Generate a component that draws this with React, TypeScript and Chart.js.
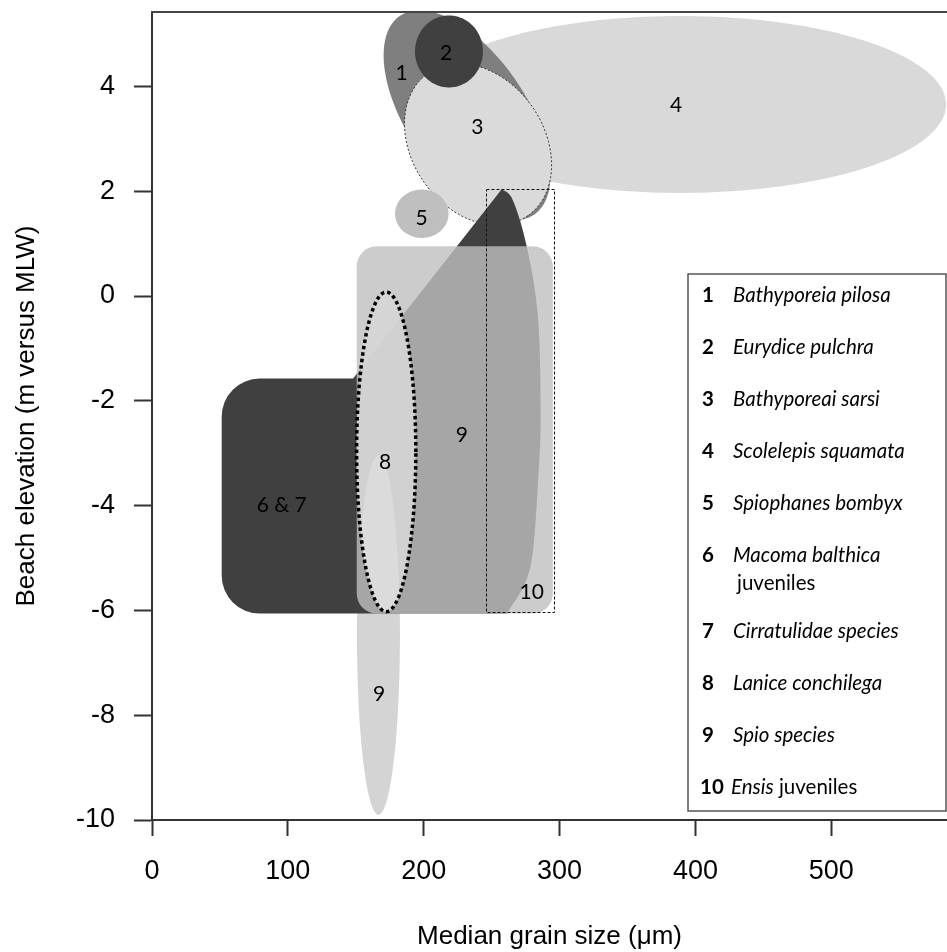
import React, { useEffect, useRef } from 'react';
import { Chart, registerables } from 'chart.js';

Chart.register(...registerables);

// ---- axes ----
const X_MIN = 0;
const X_MAX = 585.2;
const Y_MIN = -10;
const Y_MAX = 5.42;
const xTicks = [0, 100, 200, 300, 400, 500];
const yTicks = [-10, -8, -6, -4, -2, 0, 2, 4];

// ---- elliptical zones: [centreX, centreY, semiAxis1 dx, dy, semiAxis2 dx, dy] (data units) ----
const zone4Scolelepis = [388.7, 3.656, 195.8, 0, 0, 1.688];
const zone1BathyPilosa = [231.9, 3.45, 49.3, -1.898, -36.6, -0.639];
const zone3BathySarsi = [240.0, 2.893, 36.7, -1.36, -39.8, -0.723];
const zone2Eurydice = [218.6, 4.667, 25.0, 0, 0, 0.687];
const zone5Spiophanes = [198.6, 1.57, 19.7, 0, 0, 0.462];
const zone9SpioLow = [166.7, -6.47, 15.8, 0, 0, 3.43];
const zone8Lanice = [172.4, -2.975, 21.8, 0, 0, 3.05];

// ---- rectangular zones: [xMin, xMax, yMin, yMax] ----
const zone9SpioBox = [150.7, 295.0, -6.06, 0.948];
const zone10Ensis = [246.2, 296.0, -6.03, 2.04];
const zone67Rect = [51.3, 148.0, -6.06, -1.575];

// ---- dark wedge (6 & 7) right-hand edge, top to bottom ----
const wedgeEdgeX = [257.4, 265.7, 276.0, 284.1, 286.1, 284.1, 280.5, 274.6, 261.1];
const wedgeEdgeY = [2.035, 1.825, 0.929, -0.406, -2.31, -3.57, -4.85, -5.48, -6.06];

// ---- zone labels ----
const zoneLabels = ['1', '2', '3', '4', '5', '6 & 7', '8', '9', '9', '10'];
const zoneLabelX = [183.8, 216.4, 239.5, 385.7, 198.5, 95.5, 171.5, 228.0, 167.1, 279.5];
const zoneLabelY = [4.242, 4.635, 3.212, 3.65, 1.482, -3.99, -3.166, -2.657, -7.6, -5.646];

// ---- legend ----
const legendNumbers = ['1', '2', '3', '4', '5', '6', '7', '8', '9', '10'];
const legendNames = [
  'Bathyporeia pilosa',
  'Eurydice pulchra',
  'Bathyporeai sarsi',
  'Scolelepis squamata',
  'Spiophanes bombyx',
  'Macoma balthica',
  'Cirratulidae species',
  'Lanice conchilega',
  'Spio species',
  'Ensis',
];

const AXIS_FONT = '"Liberation Sans", Arial, sans-serif';
const LABEL_FONT = 'Lato, "Noto Sans", sans-serif';

function ellipsePath(ctx: CanvasRenderingContext2D, xs: any, ys: any, z: number[]) {
  const [cx, cy, ax, ay, bx, by] = z;
  const px = xs.getPixelForValue(cx);
  const py = ys.getPixelForValue(cy);
  const Ax = xs.getPixelForValue(cx + ax) - px;
  const Ay = ys.getPixelForValue(cy + ay) - py;
  const Bx = xs.getPixelForValue(cx + bx) - px;
  const By = ys.getPixelForValue(cy + by) - py;
  ctx.beginPath();
  const n = 180;
  for (let i = 0; i <= n; i++) {
    const t = (i / n) * Math.PI * 2;
    const x = px + Ax * Math.cos(t) + Bx * Math.sin(t);
    const y = py + Ay * Math.cos(t) + By * Math.sin(t);
    if (i === 0) ctx.moveTo(x, y);
    else ctx.lineTo(x, y);
  }
  ctx.closePath();
}

function roundRectPath(ctx: CanvasRenderingContext2D, xs: any, ys: any, r: number[], rad: number) {
  const x0 = xs.getPixelForValue(r[0]);
  const x1 = xs.getPixelForValue(r[1]);
  const y0 = ys.getPixelForValue(r[3]);
  const y1 = ys.getPixelForValue(r[2]);
  ctx.beginPath();
  ctx.moveTo(x0 + rad, y0);
  ctx.arcTo(x1, y0, x1, y1, rad);
  ctx.arcTo(x1, y1, x0, y1, rad);
  ctx.arcTo(x0, y1, x0, y0, rad);
  ctx.arcTo(x0, y0, x1, y0, rad);
  ctx.closePath();
}

function wedgePath(ctx: CanvasRenderingContext2D, xs: any, ys: any) {
  const pts = wedgeEdgeX.map((x, i) => [xs.getPixelForValue(x), ys.getPixelForValue(wedgeEdgeY[i])]);
  const xL = xs.getPixelForValue(zone67Rect[0]);
  const xJ = xs.getPixelForValue(zone67Rect[1]);
  const yT = ys.getPixelForValue(zone67Rect[3]);
  const yB = ys.getPixelForValue(zone67Rect[2]);
  const rad = 38;
  ctx.beginPath();
  ctx.moveTo(pts[0][0], pts[0][1]);
  for (let i = 0; i < pts.length - 1; i++) {
    const p0 = pts[Math.max(0, i - 1)];
    const p1 = pts[i];
    const p2 = pts[i + 1];
    const p3 = pts[Math.min(pts.length - 1, i + 2)];
    const c1x = p1[0] + (p2[0] - p0[0]) / 6;
    const c1y = p1[1] + (p2[1] - p0[1]) / 6;
    const c2x = p2[0] - (p3[0] - p1[0]) / 6;
    const c2y = p2[1] - (p3[1] - p1[1]) / 6;
    ctx.bezierCurveTo(c1x, c1y, c2x, c2y, p2[0], p2[1]);
  }
  ctx.lineTo(pts[pts.length - 1][0], yB);
  ctx.arcTo(xL, yB, xL, yT, rad);
  ctx.arcTo(xL, yT, xJ, yT, rad);
  ctx.lineTo(xJ, yT);
  ctx.lineTo(pts[0][0], pts[0][1]);
  ctx.closePath();
}

const zonesPlugin = {
  id: 'zones',
  beforeDatasetsDraw(chart: any) {
    const { ctx, chartArea } = chart;
    const xs = chart.scales.x;
    const ys = chart.scales.y;
    ctx.save();
    ctx.beginPath();
    ctx.rect(chartArea.left, chartArea.top, chartArea.right - chartArea.left, chartArea.bottom - chartArea.top);
    ctx.clip();

    // 4
    ellipsePath(ctx, xs, ys, zone4Scolelepis);
    ctx.fillStyle = '#d9d9d9';
    ctx.fill();
    // 1
    ellipsePath(ctx, xs, ys, zone1BathyPilosa);
    ctx.fillStyle = '#7f7f7f';
    ctx.fill();
    // 3
    ellipsePath(ctx, xs, ys, zone3BathySarsi);
    ctx.fillStyle = '#dadada';
    ctx.fill();
    ctx.setLineDash([2, 2]);
    ctx.lineWidth = 1;
    ctx.strokeStyle = '#333';
    ctx.stroke();
    ctx.setLineDash([]);
    // 2
    ellipsePath(ctx, xs, ys, zone2Eurydice);
    ctx.fillStyle = '#404040';
    ctx.fill();
    // 5
    ellipsePath(ctx, xs, ys, zone5Spiophanes);
    ctx.fillStyle = '#bfbfbf';
    ctx.fill();
    // 9 (lower part)
    ellipsePath(ctx, xs, ys, zone9SpioLow);
    ctx.fillStyle = '#d4d4d4';
    ctx.fill();
    // 6 & 7 dark wedge
    wedgePath(ctx, xs, ys);
    ctx.fillStyle = '#404040';
    ctx.fill();
    // 9 box
    roundRectPath(ctx, xs, ys, zone9SpioBox, 20);
    ctx.fillStyle = 'rgba(191,191,191,0.8)';
    ctx.fill();
    // 8
    ellipsePath(ctx, xs, ys, zone8Lanice);
    ctx.fillStyle = 'rgba(214,214,214,0.9)';
    ctx.fill();
    ctx.save();
    ctx.clip();
    ellipsePath(ctx, xs, ys, zone9SpioLow);
    ctx.fillStyle = 'rgba(225,225,225,0.6)';
    ctx.fill();
    ctx.restore();
    ellipsePath(ctx, xs, ys, zone8Lanice);
    ctx.setLineDash([3.5, 3]);
    ctx.lineWidth = 3.5;
    ctx.strokeStyle = '#000';
    ctx.stroke();
    ctx.setLineDash([]);
    // 10 dashed rectangle
    {
      const x0 = xs.getPixelForValue(zone10Ensis[0]);
      const x1 = xs.getPixelForValue(zone10Ensis[1]);
      const y0 = ys.getPixelForValue(zone10Ensis[3]);
      const y1 = ys.getPixelForValue(zone10Ensis[2]);
      ctx.setLineDash([3, 2]);
      ctx.lineWidth = 1;
      ctx.strokeStyle = '#111';
      ctx.strokeRect(Math.round(x0) + 0.5, Math.round(y0) + 0.5, Math.round(x1 - x0), Math.round(y1 - y0));
      ctx.setLineDash([]);
    }
    // labels
    ctx.fillStyle = '#000';
    ctx.font = `21px ${LABEL_FONT}`;
    ctx.textAlign = 'center';
    ctx.textBaseline = 'middle';
    zoneLabels.forEach((t, i) => {
      ctx.fillText(t, xs.getPixelForValue(zoneLabelX[i]), ys.getPixelForValue(zoneLabelY[i]));
    });
    ctx.restore();
  },
  afterDraw(chart: any) {
    const { ctx, chartArea } = chart;
    ctx.save();
    // top frame line
    ctx.strokeStyle = '#444';
    ctx.lineWidth = 2;
    ctx.beginPath();
    ctx.moveTo(chartArea.left - 1, chartArea.top);
    ctx.lineTo(chartArea.right, chartArea.top);
    ctx.stroke();

    // legend box
    const bx0 = 688;
    const by0 = 274;
    const bx1 = 946;
    const by1 = 811;
    ctx.fillStyle = '#fff';
    ctx.fillRect(bx0, by0, bx1 - bx0, by1 - by0);
    ctx.strokeStyle = '#555';
    ctx.lineWidth = 1.5;
    ctx.strokeRect(bx0, by0, bx1 - bx0, by1 - by0);

    ctx.textBaseline = 'middle';
    ctx.textAlign = 'left';
    ctx.fillStyle = '#000';
    let y = 295;
    const step = 52;
    const fs = 20.5;
    legendNumbers.forEach((num, i) => {
      ctx.font = `bold ${fs}px ${LABEL_FONT}`;
      ctx.fillText(num, num.length > 1 ? 700 : 702, y);
      const nameX = num.length > 1 ? 731 : 733;
      ctx.font = `italic ${fs}px ${LABEL_FONT}`;
      ctx.fillText(legendNames[i], nameX, y);
      if (i === 5) {
        ctx.font = `${fs}px ${LABEL_FONT}`;
        ctx.fillText('juveniles', 737, y + 28);
        y += 24;
      }
      if (i === 9) {
        const w = ctx.measureText(legendNames[i]).width;
        ctx.font = `${fs}px ${LABEL_FONT}`;
        ctx.fillText(' juveniles', nameX + w, y);
      }
      y += step;
    });
    ctx.restore();
  },
};

export default function App() {
  const ref = useRef<HTMLCanvasElement>(null);
  useEffect(() => {
    document.body.style.margin = '0';
    const canvas = ref.current as HTMLCanvasElement;
    const chart = new Chart(canvas, {
      type: 'scatter',
      data: {
        datasets: [
          {
            label: 'zones',
            data: zoneLabelX.map((x, i) => ({ x, y: zoneLabelY[i] })),
            pointRadius: 0,
            showLine: false,
          },
        ],
      },
      options: {
        animation: false,
        responsive: false,
        maintainAspectRatio: false,
        layout: { padding: { top: 12, left: 0, right: 0, bottom: 0 } },
        plugins: { legend: { display: false }, tooltip: { enabled: false } },
        scales: {
          x: {
            type: 'linear',
            min: X_MIN,
            max: X_MAX,
            afterBuildTicks: (s: any) => {
              s.ticks = xTicks.map((v) => ({ value: v }));
            },
            afterFit: (s: any) => {
              s.height = 132;
              s.paddingLeft = 0;
              s.paddingRight = 0;
            },
            grid: { drawOnChartArea: false, drawTicks: true, tickLength: 16, tickWidth: 2, tickColor: '#333' },
            border: { display: true, color: '#333', width: 2 },
            ticks: {
              font: { family: AXIS_FONT, size: 27 },
              color: '#000',
              padding: 19,
              maxRotation: 0,
              autoSkip: false,
            },
            title: {
              display: true,
              text: 'Median grain size (μm)',
              font: { family: AXIS_FONT, size: 26, lineHeight: 1.2 },
              color: '#000',
              padding: { top: 0, bottom: 0 },
            },
          },
          y: {
            type: 'linear',
            min: Y_MIN,
            max: Y_MAX,
            afterBuildTicks: (s: any) => {
              s.ticks = yTicks.map((v) => ({ value: v }));
            },
            afterFit: (s: any) => {
              s.width = 152;
              s.paddingTop = 0;
              s.paddingBottom = 0;
            },
            grid: { drawOnChartArea: false, drawTicks: true, tickLength: 18, tickWidth: 2, tickColor: '#333' },
            border: { display: true, color: '#333', width: 2 },
            ticks: {
              font: { family: AXIS_FONT, size: 27 },
              color: '#000',
              padding: 19,
              autoSkip: false,
            },
            title: {
              display: true,
              text: 'Beach elevation (m versus MLW)',
              font: { family: AXIS_FONT, size: 26, lineHeight: 1.2 },
              color: '#000',
              padding: { top: 11, bottom: 0 },
            },
          },
        },
      },
      plugins: [zonesPlugin],
    });
    return () => chart.destroy();
  }, []);
  return <canvas ref={ref} width={947} height={952} style={{ display: 'block' }} />;
}
